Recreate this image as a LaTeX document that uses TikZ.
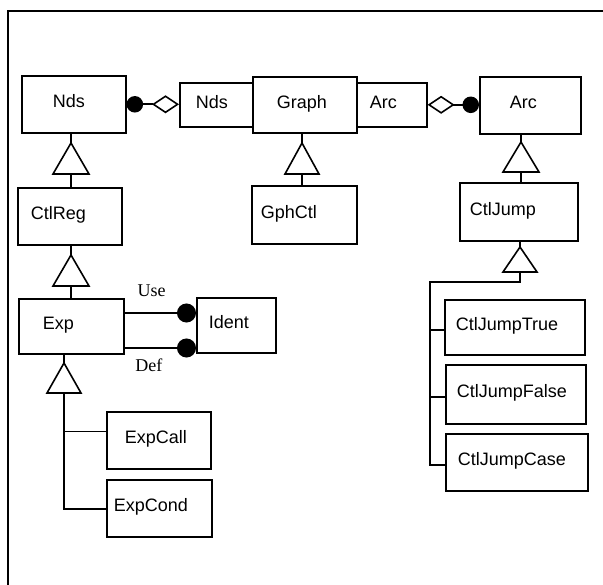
\documentclass[tikz,border=0pt]{standalone}
\usepackage{fontspec}
\setmainfont{Liberation Serif}
\setsansfont{Liberation Sans}
\usetikzlibrary{arrows.meta}
\newcommand\ubox[7]{%
  \node[ubox, minimum width=#4pt, minimum height=#5pt,
        label={[lbl,xshift=#6pt]west:#7}] (#1) at (#2,#3) {};}
\begin{document}
\begin{tikzpicture}[x=1pt,y=-1pt, line width=1.6pt,
  ubox/.style={draw, anchor=north west, inner sep=0pt},
  lbl/.style={font=\sffamily\fontsize{18}{20}\selectfont, anchor=west,
              inner sep=0pt, text height=0.72em, text depth=0pt},
  elabel/.style={font=\fontsize{18}{20}\selectfont, inner sep=0pt},
  inh/.style={draw, fill=white, line join=miter},
  dot/.style={-{Circle[length=19pt]}},
]
\useasboundingbox (0,0) rectangle (603,585);
% frame
\draw (603,11) -- (8,11) -- (8,585);
% boxes
\ubox{ndsL}{21}{75}{104}{57}{31}{Nds}
\ubox{ndsM}{179}{82}{73}{44}{16}{Nds}
\ubox{graph}{252}{76}{104}{56}{24}{Graph}
\ubox{arcM}{356}{82}{70}{44}{13}{Arc}
\ubox{arcR}{479}{76}{101}{57}{30}{Arc}
\ubox{ctlreg}{17}{187}{104}{57}{13}{CtlReg}
\ubox{gphctl}{251}{185}{105}{58}{9}{GphCtl}
\ubox{ctljump}{459}{182}{118}{58}{10}{CtlJump}
\ubox{exp}{18}{298}{105}{55}{24}{Exp}
\ubox{ident}{196}{297}{79}{55}{12}{Ident}
\ubox{expcall}{106}{411}{104}{57}{18}{ExpCall}
\ubox{expcond}{106}{479}{105}{57}{7}{ExpCond}
\ubox{cjt}{444}{299}{140}{55}{11}{CtlJumpTrue}
\ubox{cjf}{445}{364}{140}{59}{11}{CtlJumpFalse}
\ubox{cjc}{445}{433}{142}{57}{12}{CtlJumpCase}
% aggregations
\draw[{Circle[length=16.5pt]}-{Diamond[open,length=27pt,width=18pt]}]
  (ndsL.east) -- (ndsL.east -| ndsM.west);
\draw[{Diamond[open,length=27pt,width=18pt]}-{Circle[length=16.5pt]}]
  (arcM.east) -- (arcM.east -| arcR.west);
% Use / Def
\coordinate (u) at (150,313);
\coordinate (d) at (150,348);
\draw[dot] (exp.east |- u) -- node[elabel, pos=0.38, yshift=22pt] {Use} (ident.west |- u);
\draw[dot] (exp.east |- d) -- node[elabel, pos=0.34, yshift=-17pt] {Def} (ident.west |- d);
% inheritance triangles
\coordinate (t1) at (71,143); \coordinate (t1b) at (71,174);
\coordinate (t2) at (71,255); \coordinate (t2b) at (71,286);
\coordinate (t3) at (302,143); \coordinate (t3b) at (302,174);
\coordinate (t4) at (521,142); \coordinate (t4b) at (521,172);
\coordinate (t5) at (520,247); \coordinate (t5b) at (520,272);
\coordinate (t6) at (64,363); \coordinate (t6b) at (64,393);
\draw (ndsL.south -| t1) -- (t1); \draw (t1b) -- (ctlreg.north -| t1b);
\draw (ctlreg.south -| t2) -- (t2); \draw (t2b) -- (exp.north -| t2b);
\draw (graph.south -| t3) -- (t3); \draw (t3b) -- (gphctl.north -| t3b);
\draw (arcR.south -| t4) -- (t4); \draw (t4b) -- (ctljump.north -| t4b);
\draw (ctljump.south -| t5) -- (t5);
\draw (exp.south -| t6) -- (t6);
\draw[inh] (t1) -- ++(-18,31) -- ++(36,0) -- cycle;
\draw[inh] (t2) -- ++(-18,31) -- ++(36,0) -- cycle;
\draw[inh] (t3) -- ++(-17,31) -- ++(34,0) -- cycle;
\draw[inh] (t4) -- ++(-18,30) -- ++(36,0) -- cycle;
\draw[inh] (t5) -- ++(-17,25) -- ++(34,0) -- cycle;
\draw[inh] (t6) -- ++(-17,30) -- ++(34,0) -- cycle;
% CtlJump subclasses
\coordinate (j0) at (520,282); \coordinate (j1) at (430,282);
\coordinate (jb1) at (430,330); \coordinate (jb2) at (430,397); \coordinate (jb3) at (430,465);
\draw (t5b) -- (j0) -- (j1) -- (jb3) -- (cjc.west |- jb3);
\draw (jb1) -- (cjt.west |- jb1);
\draw (jb2) -- (cjf.west |- jb2);
% Exp subclasses
\coordinate (eb1) at (64,432); \coordinate (eb2) at (64,509);
\draw (t6b) -- (eb2) -- (expcond.west |- eb2);
\draw[line width=1pt] (eb1) -- (expcall.west |- eb1);
\end{tikzpicture}
\end{document}
